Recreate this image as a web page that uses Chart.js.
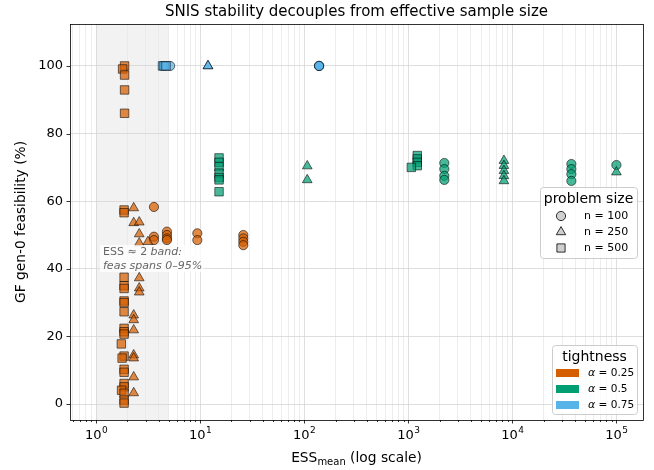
<!DOCTYPE html>
<html>
<head>
<meta charset="utf-8">
<script src="https://cdn.jsdelivr.net/npm/chart.js@4.4.1/dist/chart.umd.min.js"></script>
<style>
  html, body { margin: 0; padding: 0; background: #fff; }
  #wrap { width: 654px; height: 470px; }
</style>
</head>
<body>
<div id="wrap"><canvas id="chart" width="654" height="470"></canvas></div>
<script>
// alpha = 0.25 (orange)
const essO100 = [3.6, 3.6, 3.6, 4.8, 4.8, 4.8, 4.8, 9.4, 9.4, 26, 26, 26, 26];
const feasO100 = [58.3, 49.5, 48.5, 51, 50, 49, 48.5, 50.5, 48.5, 50, 49, 48, 47];
const essO250 = [2.3, 2.3, 2.3, 2.3, 2.3, 2.3, 2.3, 2.3, 2.3, 2.6, 2.6, 2.6, 2.6, 2.6, 2.6, 3.15];
const feasO250 = [58, 53.6, 26.3, 24.9, 21.9, 14.5, 13.6, 8.0, 3.3, 53.8, 50.3, 47.6, 37.3, 34.3, 33.1, 48];
const essO500 = [1.88, 1.80, 1.88, 1.88, 1.88, 1.86, 1.86, 1.86, 1.86, 1.86, 1.86, 1.86, 1.86, 1.86,
                 1.86, 1.86, 1.75, 1.86, 1.78, 1.86, 1.86, 1.86, 1.86, 1.76, 1.86, 1.86, 1.86];
const feasO500 = [100, 99.1, 97.3, 92.9, 86, 57.4, 56.6, 37.5, 35, 34.2, 30.5, 30, 27.3, 22.4,
                  21.4, 20.7, 17.8, 14.2, 13.6, 10.3, 9.4, 6.1, 5.1, 4.1, 3.2, 1.2, 0.3];

// alpha = 0.5 (green)
const essG100 = [2220, 2220, 2220, 2220, 36900, 36900, 36900, 36900, 100000];
const feasG100 = [71.3, 69.5, 67.5, 66.3, 71, 69.5, 68, 66, 70.7];
const essG250 = [107, 107, 8300, 8300, 8300, 8300, 8300, 100000];
const feasG250 = [70.4, 66.3, 72, 70.5, 69, 67.5, 66, 68.6];
const essG500 = [15.2, 15.2, 15.2, 15.2, 15.2, 15.2, 15.2, 1220, 1220, 1220, 1220, 1070];
const feasG500 = [72.8, 71.5, 70.2, 68.3, 67, 66.3, 62.8, 73.5, 72.5, 71.5, 70.5, 70];

// alpha = 0.75 (blue)
const essB100 = [5.15, 139, 139, 139];
const feasB100 = [100, 100, 100, 100];
const essB250 = [11.9, 11.9];
const feasB250 = [100, 100];
const essB500 = [4.35, 4.5, 4.7];
const feasB500 = [100, 100, 100];

const tightLabels = ['0.25', '0.5', '0.75'];
const tightColors = ['#D55E00', '#009E73', '#56B4E9'];
const sizeLabels = ['n = 100', 'n = 250', 'n = 500'];
const sizeStyles = ['circle', 'triangle', 'rect'];
const sizeRadius = [4.6, 5.6, 6];

const xMajor = [1, 10, 100, 1000, 10000, 100000];
const yTicks = [0, 20, 40, 60, 80, 100];
const bandRange = [1, 5];

const FONT = 'DejaVu Sans';

function pts(xs, ys) {
    return xs.map((v, i) => ({ x: v, y: ys[i] }));
}

function fade(hex, a) {
    const n = parseInt(hex.slice(1), 16);
    return `rgba(${n >> 16},${(n >> 8) & 255},${n & 255},${a})`;
}

const groups = [
    [essO100, feasO100, 0, 0], [essO250, feasO250, 0, 1], [essO500, feasO500, 0, 2],
    [essG100, feasG100, 1, 0], [essG250, feasG250, 1, 1], [essG500, feasG500, 1, 2],
    [essB100, feasB100, 2, 0], [essB250, feasB250, 2, 1], [essB500, feasB500, 2, 2],
];

// Chart.js draws dataset 0 last, so reverse to keep later groups on top
const datasets = groups.map(([xs, ys, t, s]) => ({
    label: `a${tightLabels[t]} ${sizeLabels[s]}`,
    data: pts(xs, ys),
    pointStyle: sizeStyles[s],
    pointRadius: sizeRadius[s],
    pointHoverRadius: sizeRadius[s],
    backgroundColor: fade(tightColors[t], 0.72),
    borderColor: 'rgba(0,0,0,0.7)',
    borderWidth: 0.8,
})).reverse();

function minorTicks(lo, hi) {
    const t = [];
    for (let e = -1; e <= 5; e++) {
        for (let m = 1; m <= 9; m++) {
            const v = m * Math.pow(10, e);
            if (v >= lo && v <= hi) t.push({ value: v, major: m === 1 });
        }
    }
    return t;
}

function marker(ctx, style, x, y, r) {
    ctx.beginPath();
    if (style === 'circle') {
        ctx.arc(x, y, r, 0, Math.PI * 2);
    } else if (style === 'triangle') {
        ctx.moveTo(x, y - r);
        ctx.lineTo(x + r * 0.866, y + r * 0.5);
        ctx.lineTo(x - r * 0.866, y + r * 0.5);
        ctx.closePath();
    } else {
        const h = r * Math.SQRT1_2;
        ctx.rect(x - h, y - h, 2 * h, 2 * h);
    }
    ctx.fill();
    ctx.stroke();
}

function legendBox(ctx, x0, y0, x1, y1) {
    ctx.save();
    ctx.fillStyle = 'rgba(255,255,255,0.8)';
    ctx.strokeStyle = '#cccccc';
    ctx.lineWidth = 1;
    ctx.beginPath();
    ctx.roundRect(x0 + 0.5, y0 + 0.5, x1 - x0, y1 - y0, 3);
    ctx.fill();
    ctx.stroke();
    ctx.restore();
}

// Shaded ESS ~ 2 band behind the grid
const bandPlugin = {
    id: 'band',
    beforeDraw(chart) {
        const { ctx, chartArea: a, scales: { x } } = chart;
        const x0 = x.getPixelForValue(bandRange[0]);
        const x1 = x.getPixelForValue(bandRange[1]);
        ctx.save();
        ctx.fillStyle = 'rgba(128,128,128,0.1)';
        ctx.fillRect(x0, a.top, x1 - x0, a.bottom - a.top);
        ctx.restore();
    }
};

// Frame, ticks, labels, annotation and the two legends
const decorPlugin = {
    id: 'decor',
    afterDraw(chart) {
        const { ctx, chartArea: a, scales: { x, y } } = chart;
        ctx.save();

        // frame
        ctx.strokeStyle = '#000';
        ctx.lineWidth = 0.8;
        ctx.strokeRect(a.left + 0.5, a.top + 0.5, a.right - a.left, a.bottom - a.top);

        // tick marks
        ctx.beginPath();
        x.ticks.forEach(t => {
            const px = Math.round(x.getPixelForValue(t.value)) + 0.5;
            ctx.moveTo(px, a.bottom);
            ctx.lineTo(px, a.bottom + (t.major ? 3.5 : 2));
        });
        yTicks.forEach(v => {
            const py = Math.round(y.getPixelForValue(v)) + 0.5;
            ctx.moveTo(a.left, py);
            ctx.lineTo(a.left - 3.5, py);
        });
        ctx.stroke();

        // x tick labels 10^k
        ctx.fillStyle = '#000';
        ctx.textBaseline = 'alphabetic';
        xMajor.forEach(v => {
            const px = x.getPixelForValue(v);
            const ex = String(Math.round(Math.log10(v)));
            ctx.font = `13px "${FONT}"`;
            const w1 = ctx.measureText('10').width;
            ctx.font = `9px "${FONT}"`;
            const w2 = ctx.measureText(ex).width;
            const sx = px - (w1 + w2) / 2;
            ctx.font = `13px "${FONT}"`;
            ctx.textAlign = 'left';
            ctx.fillText('10', sx, 439);
            ctx.font = `9px "${FONT}"`;
            ctx.fillText(ex, sx + w1 + 0.5, 432.5);
        });

        // x axis title with subscript
        ctx.font = `13.8px "${FONT}"`;
        const p1 = 'ESS', p3 = ' (log scale)';
        const w1 = ctx.measureText(p1).width;
        const w3 = ctx.measureText(p3).width;
        ctx.font = `10px "${FONT}"`;
        const w2 = ctx.measureText('mean').width;
        let sx = (a.left + a.right) / 2 - (w1 + w2 + w3) / 2;
        ctx.font = `13.8px "${FONT}"`;
        ctx.fillText(p1, sx, 462);
        ctx.font = `10px "${FONT}"`;
        ctx.fillText('mean', sx + w1, 465);
        ctx.font = `13.8px "${FONT}"`;
        ctx.fillText(p3, sx + w1 + w2, 462);

        // y axis title
        ctx.save();
        ctx.translate(21, (a.top + a.bottom) / 2);
        ctx.rotate(-Math.PI / 2);
        ctx.textAlign = 'center';
        ctx.textBaseline = 'middle';
        ctx.fillText('GF gen-0 feasibility (%)', 0, 0);
        ctx.restore();

        // title
        ctx.font = `15px "${FONT}"`;
        ctx.textAlign = 'center';
        ctx.textBaseline = 'middle';
        ctx.fillText('SNIS stability decouples from effective sample size', (a.left + a.right) / 2, 12);

        // annotation
        ctx.fillStyle = 'rgba(255,255,255,0.8)';
        ctx.fillRect(100, 245, 103, 27);
        ctx.fillStyle = '#666666';
        ctx.textAlign = 'left';
        ctx.font = `11px "${FONT}"`;
        ctx.fillText('ESS ≈ 2 ', 103, 252);
        const wa = ctx.measureText('ESS ≈ 2 ').width;
        ctx.font = `italic 11px "${FONT}"`;
        ctx.fillText('band:', 103 + wa, 252);
        ctx.fillText('feas spans 0–95%', 103, 266);

        // legend: problem size
        legendBox(ctx, 540, 187, 637, 258);
        ctx.fillStyle = '#000';
        ctx.font = `14px "${FONT}"`;
        ctx.textAlign = 'center';
        ctx.fillText('problem size', 588.5, 199);
        ctx.font = `11px "${FONT}"`;
        sizeLabels.forEach((lab, i) => {
            const ly = 216 + i * 16;
            ctx.fillStyle = '#cfcfcf';
            ctx.strokeStyle = '#000';
            ctx.lineWidth = 0.8;
            marker(ctx, sizeStyles[i], 561, ly, [4.6, 5.4, 5.8][i]);
            ctx.fillStyle = '#000';
            ctx.textAlign = 'left';
            ctx.fillText(lab, 584, ly);
        });

        // legend: tightness
        legendBox(ctx, 552, 345, 637, 414);
        ctx.font = `14px "${FONT}"`;
        ctx.textAlign = 'center';
        ctx.fillStyle = '#000';
        ctx.fillText('tightness', 594.5, 357);
        tightLabels.forEach((lab, i) => {
            const ly = 373 + i * 16;
            ctx.fillStyle = tightColors[i];
            ctx.fillRect(556, ly - 4, 23, 8);
            ctx.fillStyle = '#000';
            ctx.textAlign = 'left';
            ctx.font = `italic 11px "${FONT}"`;
            ctx.fillText('α', 588, ly);
            const wAl = ctx.measureText('α').width;
            ctx.font = `10.5px "${FONT}"`;
            ctx.fillText(' = ' + lab, 588 + wAl, ly);
        });

        ctx.restore();
    }
};

Chart.defaults.font.family = FONT;

new Chart(document.getElementById('chart'), {
    type: 'scatter',
    data: { datasets },
    options: {
        responsive: false,
        animation: false,
        events: [],
        layout: { padding: { top: 24, right: 11, left: 0, bottom: 0 } },
        plugins: { legend: { display: false }, tooltip: { enabled: false }, title: { display: false } },
        scales: {
            x: {
                type: 'logarithmic',
                min: 0.562,
                max: 180000,
                afterBuildTicks: s => { s.ticks = minorTicks(s.min, s.max); },
                afterFit: s => { s.height = 50; },
                ticks: { display: false },
                border: { display: false },
                grid: {
                    drawTicks: false,
                    lineWidth: 0.8,
                    color: c => (c.tick && c.tick.major ? '#d6d6d6' : '#e8e8e8'),
                },
            },
            y: {
                min: -4.7,
                max: 112.4,
                afterBuildTicks: s => { s.ticks = yTicks.map(v => ({ value: v })); },
                afterFit: s => { s.width = 70; },
                ticks: { color: '#000', font: { size: 13 }, padding: 7 },
                border: { display: false },
                grid: { drawTicks: false, lineWidth: 0.8, color: '#d6d6d6' },
            },
        },
    },
    plugins: [bandPlugin, decorPlugin],
});
</script>
</body>
</html>
